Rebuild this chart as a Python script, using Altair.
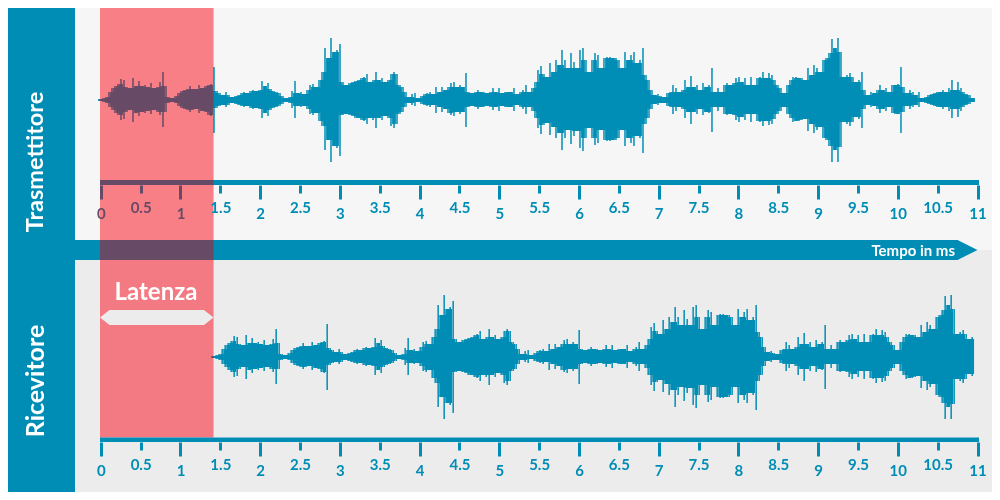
import altair as alt
import pandas as pd

TEAL = "#008DB5"
PURPLE = "#674A66"

# Envelope of the waveform, one value every 3 px of the trace
amp_up = [
    1,2,3,8,12,14,16,21,20,13, 12,22,14,19,14,15,13,17,12,13,
    18,28,14,3,2,4,7,9,10,11, 14,11,11,15,12,14,15,16,33,9,
    7,5,8,5,3,4,5,7,8,7, 9,10,9,10,19,14,17,11,9,8,
    7,4,2,3,9,19,7,8,6,10, 15,16,13,20,
    28,52,42,62,48,50,56,18,15,17, 18,19,20,22,23,26,18,20,28,20,
    22,18,20,26,28,26,15,13,8,3, 6,7,2,4,6,7,8,6,13,8,
    13,10,13,17,18,13,15,13,27,8, 7,8,10,8,8,7,8,12,8,12,
    7,8,8,8,12,6,8,10,15,8, 12,18,
    30,34,26,23,37,28,40,35,50,40, 32,47,38,32,50,52,40,28,40,47,
    45,32,42,43,43,42,42,40,32,48, 40,45,48,37,40,52,25,20,10,5,
    6,4,3,7,8,15,12,8,10,20, 13,24,13,15,10,17,13,15,32,8,
    12,8,15,17,15,17,22,23,18,22, 15,23,15,22,
    23,28,22,27,25,20,15,12,7,15, 20,23,23,22,22,20,32,25,35,32,
    28,40,42,47,61,52,62,48,23,25, 27,23,18,20,28,10,5,8,7,10,
    15,10,12,8,15,15,16,33,13,7, 10,8,5,8,2,3,5,6,7,8,
    8,10,8,12,20,10,18,12,8,6, 5,2,
]
amp_dn = [
    1,2,3,7,10,13,15,20,19,12, 10,22,13,16,12,13,11,14,10,12,
    15,27,12,3,2,3,6,8,9,10, 12,10,9,13,11,12,15,16,33,8,
    6,5,7,5,3,4,5,6,7,6, 8,9,8,9,18,13,16,10,8,7,
    6,4,2,3,8,18,6,7,6,9, 14,15,13,21,
    26,50,40,62,46,48,56,15,14,15, 16,18,18,20,21,24,18,20,28,18,
    20,16,18,26,28,24,14,12,7,3, 5,6,2,4,5,6,7,5,13,7,
    12,9,13,15,16,12,14,12,27,7, 6,7,9,7,7,6,7,10,7,11,
    6,7,7,7,11,5,7,9,14,7, 11,18,
    28,34,25,23,35,27,38,33,50,38, 30,44,36,31,48,51,38,28,38,45,
    43,30,40,41,41,40,40,38,30,46, 38,43,46,36,38,53,24,18,9,4,
    5,3,3,6,7,14,11,7,9,18, 12,24,12,14,9,15,12,13,32,7,
    11,7,14,15,14,15,20,22,17,20, 14,22,14,21,
    22,26,21,25,24,19,14,11,7,14, 18,22,21,21,20,19,31,24,33,30,
    27,38,40,46,62,50,62,47,22,24, 26,22,17,19,28,9,5,7,6,9,
    13,9,11,7,13,14,14,33,12,6, 9,7,5,7,2,3,4,5,6,7,
    7,9,7,11,18,9,17,11,7,5, 4,2,
]
sample_step_ms = 0.03764
latency_ms = 1.42
tick_values = [i / 2 for i in range(23)]

W, H = 984, 484
PX_PER_MS = 79.7
T0_PX = 92.8  # plot x of t = 0


def frame(center, delay):
    up = pd.Series(amp_up)
    dn = pd.Series(amp_dn)
    df = pd.DataFrame({
        "t": [i * sample_step_ms + delay - 0.01 for i in range(len(amp_up))],
        "top": center - up,
        "bot": center + dn,
        "core_top": center - up.rolling(3, center=True, min_periods=1).min(),
        "core_bot": center + dn.rolling(3, center=True, min_periods=1).min(),
    })
    return df[df.t <= 10.96]


tx = frame(100, 0)
rx = frame(357, latency_ms)

x_scale = alt.Scale(domain=[-T0_PX / PX_PER_MS, (W - T0_PX) / PX_PER_MS], nice=False, zero=False)
y_scale = alt.Scale(domain=[492, 8], nice=False, zero=False)


def make_axis(offset, color):
    return alt.Axis(
        orient="bottom", offset=offset, values=tick_values, domain=False, grid=False, title=None,
        tickSize=alt.expr("datum.value % 1 === 0 ? 14 : 8"), tickWidth=3,
        tickColor=alt.expr(color), labelColor=alt.expr(color),
        labelFont="Lato", labelFontSize=15, labelFontWeight="bold", labelPadding=7,
        labelAngle=0, labelOverlap=False, labelFlush=False, labelSeparation=0,
        format="~g", zindex=1,
    )


axis_top = make_axis(-307, f"datum.value < 1.42 ? '{PURPLE}' : '{TEAL}'")
axis_bot = make_axis(-50, f"'{TEAL}'")


def wave(df, axis=None):
    base = alt.Chart(df)
    spikes = base.mark_rule(color=TEAL, strokeWidth=1.5).encode(
        x=alt.X("t:Q", scale=x_scale, axis=axis),
        y=alt.Y("top:Q", scale=y_scale, axis=None),
        y2="bot:Q",
    )
    core = base.mark_rule(color=TEAL, strokeWidth=3.8).encode(
        x=alt.X("t:Q", scale=x_scale, axis=None),
        y=alt.Y("core_top:Q", scale=y_scale, axis=None),
        y2="core_bot:Q",
    )
    return spikes, core


one = alt.Data(values=[{}])


def box(color, x0, x1, y0, y1, **kw):
    return alt.Chart(one).mark_rect(color=color, **kw).encode(
        x=alt.value(x0 - 8), x2=alt.value(x1 - 8), y=alt.value(y0 - 8), y2=alt.value(y1 - 8)
    )


def label(text, x, y, size, **kw):
    return alt.Chart(one).mark_text(text=text, color="white", fontWeight="bold", fontSize=size, **kw).encode(
        x=alt.value(x - 8), y=alt.value(y - 8)
    )


panel_top = box("#F6F6F6", 75, 992, 8, 250)
panel_bot = box("#ECECEC", 75, 992, 250, 492)
strip = box(TEAL, 8, 75, 8, 492)
time_bar = box(TEAL, 75, 958, 240, 260)
time_tip = alt.Chart(one).mark_point(
    shape="M -1 -1 L 1 0 L -1 1 Z", filled=True, color=TEAL, opacity=1, strokeWidth=0, size=400
).encode(x=alt.value(967.5 - 8), y=alt.value(250 - 8))
base_top = box(TEAL, 100, 979, 180, 185)
base_bot = box(TEAL, 100, 979, 437.5, 442)

tx_spikes, tx_core = wave(tx, axis_top)
rx_spikes, rx_core = wave(rx, axis_bot)

tint = box("#FF041E", 100, 213.5, 8, 437.5, opacity=0.4)
tint_mul = box("#FFDAD8", 100, 213.5, 8, 437.5, blend="multiply")

latency_arrow = alt.Chart(one).mark_point(
    shape="M -1 0 L -0.833 -0.132 L 0.833 -0.132 L 1 0 L 0.833 0.132 L -0.833 0.132 Z",
    filled=True, color="#ECECEC", opacity=1, strokeWidth=0, size=12882,
).encode(x=alt.value(156.75 - 8), y=alt.value(317.5 - 8))

t_side1 = label("Trasmettitore", 36, 162, 23.5, angle=270, font="Lato")
t_side2 = label("Ricevitore", 36, 381, 25, angle=270, font="Lato")
t_latency = label("Latenza", 156, 293, 24, font="Lato")
t_time = label("Tempo in ms", 955, 251, 15, font="Lato", align="right")

chart = alt.layer(
    panel_top, panel_bot, strip, time_bar, time_tip, base_top,
    tx_spikes, tx_core, rx_spikes, rx_core,
    tint, tint_mul, base_bot, latency_arrow,
    t_side1, t_side2, t_latency, t_time,
).resolve_axis(x="independent").properties(
    width=W, height=H, padding=0, autosize=alt.AutoSizeParams(type="none"),
).configure_view(stroke=None)

chart.save("out.html", embed_options={"renderer": "svg", "actions": False})
